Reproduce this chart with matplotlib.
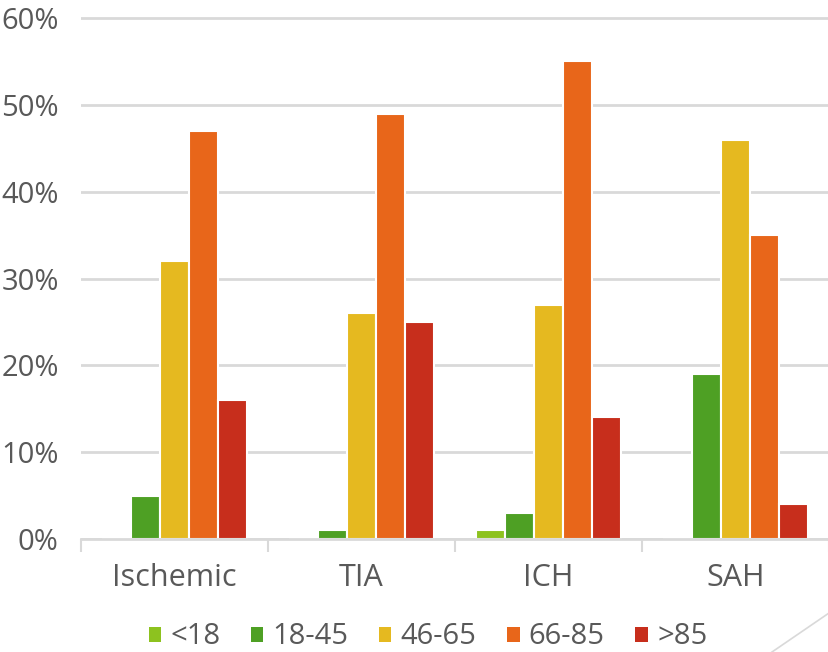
import matplotlib.pyplot as plt
from matplotlib.lines import Line2D
from matplotlib.ticker import PercentFormatter
import numpy as np

# data (percent of each stroke type)
categories = ['Ischemic', 'TIA', 'ICH', 'SAH']
age_groups = ['<18', '18-45', '46-65', '66-85', '>85']
lt18 = [0, 0, 1, 0]
a18_45 = [5, 1, 3, 19]
a46_65 = [32, 26, 27, 46]
a66_85 = [47, 49, 55, 35]
gt85 = [16, 25, 14, 4]
series = [lt18, a18_45, a46_65, a66_85, gt85]
colors = ['#8DC21F', '#4EA024', '#E5B920', '#E8661A', '#C72E1C']

plt.rcParams['font.family'] = ['Open Sans', 'DejaVu Sans']
txt = '#595959'

fig = plt.figure(figsize=(8.29, 6.52), dpi=100)
ax = fig.add_axes([81 / 829, 1 - 539 / 652, 1 - 81 / 829, (539 - 16) / 652])

x = np.arange(len(categories))
w = 0.155
for i, (vals, c) in enumerate(zip(series, colors)):
    ax.bar(x + (i - 2) * w, np.array(vals) / 100, width=w, color=c,
           edgecolor='white', linewidth=1.5, label=age_groups[i], zorder=2)

ax.set_xlim(-0.5, len(categories) - 0.5)
ax.set_ylim(0, 0.6 * (539 - 16) / (539 - 18))
ax.set_yticks(np.arange(0, 0.61, 0.1))
ax.yaxis.set_major_formatter(PercentFormatter(1.0, decimals=0))
ax.grid(axis='y', color='#D9D9D9', linewidth=2, zorder=0)
ax.set_axisbelow(True)

ax.set_xticks(x)
ax.set_xticklabels(categories)
ax.set_xticks(np.arange(-0.5, len(categories)), minor=True)
ax.tick_params(axis='x', which='major', length=0, pad=17, labelsize=22, colors=txt)
ax.tick_params(axis='x', which='minor', length=9, width=1.5, color='#D9D9D9')
ax.tick_params(axis='y', length=0, pad=16, labelsize=21, colors=txt)

for s in ['top', 'right', 'left']:
    ax.spines[s].set_visible(False)
ax.spines['bottom'].set_color('#D9D9D9')
ax.spines['bottom'].set_linewidth(2)
ax.spines['bottom'].set_zorder(2.5)

leg = fig.legend(loc='center', bbox_to_anchor=(428 / 829, 1 - 637 / 652), ncol=5,
                 frameon=False, fontsize=21, handlelength=0.42, handleheight=0.42,
                 handletextpad=0.32, columnspacing=1.05, labelcolor=txt)
for h in leg.legend_handles:
    h.set_linewidth(0)

fig.add_artist(Line2D([772 / 829, 1.0], [0, 1 - 613 / 652], color='#D9D9D9', linewidth=1.2))

fig.savefig('out.png', dpi=100)
